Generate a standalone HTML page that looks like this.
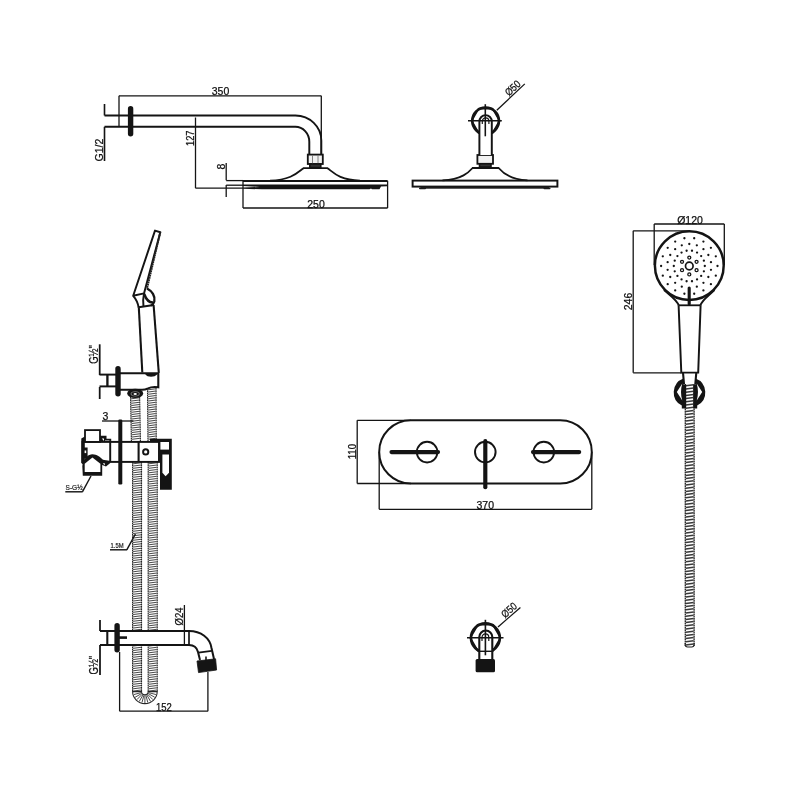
<!DOCTYPE html>
<html><head><meta charset="utf-8"><title>Shower set dimensions</title>
<style>
html,body{margin:0;padding:0;background:#fff;}
body{width:800px;height:800px;overflow:hidden;}
svg{display:block;filter:grayscale(1);}
text{font-family:"Liberation Sans",sans-serif;fill:#111;stroke:#111;stroke-width:0.25px;}
</style></head><body>
<svg width="800" height="800" viewBox="0 0 800 800">
<rect width="800" height="800" fill="#fff"/>
<path d="M155,230.6 L160.3,232.2 L144,293.4 L133.2,295.8 Z" stroke="#141414" stroke-width="1.95" fill="none" stroke-linejoin="round"/>
<path d="M160.3,232.2 L147,288.5" stroke="#222" stroke-width="1.95" fill="none" stroke-dasharray="1.8 0.5"/>
<path d="M133.2,295.8 C136,299 138,303 138.6,307.5" stroke="#141414" stroke-width="1.95" fill="none" />
<path d="M144,293.4 C143,298 143,303 143.5,306.8" stroke="#141414" stroke-width="1.95" fill="none" />
<path d="M147,288.5 C152,291 155.5,296 154.3,301.5 C153.8,303.5 152.5,304.8 151,305.3" stroke="#141414" stroke-width="2.34" fill="none" />
<path d="M144.2,294 C146,299 149,303 153.5,302.5" stroke="#141414" stroke-width="2.47" fill="none" />
<path d="M138.6,307.3 L153.8,305" stroke="#141414" stroke-width="1.95" fill="none" />
<path d="M138.8,307.3 L142.3,372.5" stroke="#141414" stroke-width="2.08" fill="none" />
<path d="M153.6,305 L158.8,372.8" stroke="#141414" stroke-width="2.08" fill="none" />
<polygon points="130.6,397 139.6,397 140.4,441 131.4,441" fill="#fff" stroke="none"/>
<line x1="130.6" y1="397" x2="131.4" y2="441" stroke="#262626" stroke-width="1.15" stroke-dasharray="1.7 0.55"/>
<line x1="139.6" y1="397" x2="140.4" y2="441" stroke="#262626" stroke-width="1.15" stroke-dasharray="1.7 0.55"/>
<path d="M131.11,398.80L139.11,397.80M131.16,401.05L139.16,400.05M131.20,403.30L139.20,402.30M131.24,405.55L139.24,404.55M131.28,407.80L139.28,406.80M131.32,410.05L139.32,409.05M131.36,412.30L139.36,411.30M131.40,414.55L139.40,413.55M131.44,416.80L139.44,415.80M131.48,419.05L139.48,418.05M131.52,421.30L139.52,420.30M131.56,423.55L139.56,422.55M131.61,425.80L139.61,424.80M131.65,428.05L139.65,427.05M131.69,430.30L139.69,429.30M131.73,432.55L139.73,431.55M131.77,434.80L139.77,433.80M131.81,437.05L139.81,436.05M131.85,439.30L139.85,438.30" stroke="#484848" stroke-width="1.0" fill="none"/>
<polygon points="132.6,462 141.5,462 141.5,692 132.6,692" fill="#fff" stroke="none"/>
<line x1="132.6" y1="462" x2="132.6" y2="692" stroke="#262626" stroke-width="1.15" stroke-dasharray="1.7 0.55"/>
<line x1="141.5" y1="462" x2="141.5" y2="692" stroke="#262626" stroke-width="1.15" stroke-dasharray="1.7 0.55"/>
<path d="M133.10,463.80L141.00,462.80M133.10,466.05L141.00,465.05M133.10,468.30L141.00,467.30M133.10,470.55L141.00,469.55M133.10,472.80L141.00,471.80M133.10,475.05L141.00,474.05M133.10,477.30L141.00,476.30M133.10,479.55L141.00,478.55M133.10,481.80L141.00,480.80M133.10,484.05L141.00,483.05M133.10,486.30L141.00,485.30M133.10,488.55L141.00,487.55M133.10,490.80L141.00,489.80M133.10,493.05L141.00,492.05M133.10,495.30L141.00,494.30M133.10,497.55L141.00,496.55M133.10,499.80L141.00,498.80M133.10,502.05L141.00,501.05M133.10,504.30L141.00,503.30M133.10,506.55L141.00,505.55M133.10,508.80L141.00,507.80M133.10,511.05L141.00,510.05M133.10,513.30L141.00,512.30M133.10,515.55L141.00,514.55M133.10,517.80L141.00,516.80M133.10,520.05L141.00,519.05M133.10,522.30L141.00,521.30M133.10,524.55L141.00,523.55M133.10,526.80L141.00,525.80M133.10,529.05L141.00,528.05M133.10,531.30L141.00,530.30M133.10,533.55L141.00,532.55M133.10,535.80L141.00,534.80M133.10,538.05L141.00,537.05M133.10,540.30L141.00,539.30M133.10,542.55L141.00,541.55M133.10,544.80L141.00,543.80M133.10,547.05L141.00,546.05M133.10,549.30L141.00,548.30M133.10,551.55L141.00,550.55M133.10,553.80L141.00,552.80M133.10,556.05L141.00,555.05M133.10,558.30L141.00,557.30M133.10,560.55L141.00,559.55M133.10,562.80L141.00,561.80M133.10,565.05L141.00,564.05M133.10,567.30L141.00,566.30M133.10,569.55L141.00,568.55M133.10,571.80L141.00,570.80M133.10,574.05L141.00,573.05M133.10,576.30L141.00,575.30M133.10,578.55L141.00,577.55M133.10,580.80L141.00,579.80M133.10,583.05L141.00,582.05M133.10,585.30L141.00,584.30M133.10,587.55L141.00,586.55M133.10,589.80L141.00,588.80M133.10,592.05L141.00,591.05M133.10,594.30L141.00,593.30M133.10,596.55L141.00,595.55M133.10,598.80L141.00,597.80M133.10,601.05L141.00,600.05M133.10,603.30L141.00,602.30M133.10,605.55L141.00,604.55M133.10,607.80L141.00,606.80M133.10,610.05L141.00,609.05M133.10,612.30L141.00,611.30M133.10,614.55L141.00,613.55M133.10,616.80L141.00,615.80M133.10,619.05L141.00,618.05M133.10,621.30L141.00,620.30M133.10,623.55L141.00,622.55M133.10,625.80L141.00,624.80M133.10,628.05L141.00,627.05M133.10,630.30L141.00,629.30M133.10,632.55L141.00,631.55M133.10,634.80L141.00,633.80M133.10,637.05L141.00,636.05M133.10,639.30L141.00,638.30M133.10,641.55L141.00,640.55M133.10,643.80L141.00,642.80M133.10,646.05L141.00,645.05M133.10,648.30L141.00,647.30M133.10,650.55L141.00,649.55M133.10,652.80L141.00,651.80M133.10,655.05L141.00,654.05M133.10,657.30L141.00,656.30M133.10,659.55L141.00,658.55M133.10,661.80L141.00,660.80M133.10,664.05L141.00,663.05M133.10,666.30L141.00,665.30M133.10,668.55L141.00,667.55M133.10,670.80L141.00,669.80M133.10,673.05L141.00,672.05M133.10,675.30L141.00,674.30M133.10,677.55L141.00,676.55M133.10,679.80L141.00,678.80M133.10,682.05L141.00,681.05M133.10,684.30L141.00,683.30M133.10,686.55L141.00,685.55M133.10,688.80L141.00,687.80M133.10,691.05L141.00,690.05" stroke="#484848" stroke-width="1.0" fill="none"/>
<polygon points="147.5,388 156,388 156.2,441 148,441" fill="#fff" stroke="none"/>
<line x1="147.5" y1="388" x2="148" y2="441" stroke="#262626" stroke-width="1.15" stroke-dasharray="1.7 0.55"/>
<line x1="156" y1="388" x2="156.2" y2="441" stroke="#262626" stroke-width="1.15" stroke-dasharray="1.7 0.55"/>
<path d="M148.01,389.80L155.50,388.80M148.03,392.05L155.51,391.05M148.05,394.30L155.52,393.30M148.07,396.55L155.53,395.55M148.09,398.80L155.54,397.80M148.11,401.05L155.55,400.05M148.13,403.30L155.55,402.30M148.16,405.55L155.56,404.55M148.18,407.80L155.57,406.80M148.20,410.05L155.58,409.05M148.22,412.30L155.59,411.30M148.24,414.55L155.60,413.55M148.26,416.80L155.60,415.80M148.28,419.05L155.61,418.05M148.30,421.30L155.62,420.30M148.33,423.55L155.63,422.55M148.35,425.80L155.64,424.80M148.37,428.05L155.65,427.05M148.39,430.30L155.66,429.30M148.41,432.55L155.66,431.55M148.43,434.80L155.67,433.80M148.45,437.05L155.68,436.05M148.47,439.30L155.69,438.30" stroke="#484848" stroke-width="1.0" fill="none"/>
<polygon points="148.2,462 157.2,462 157.2,692 148.2,692" fill="#fff" stroke="none"/>
<line x1="148.2" y1="462" x2="148.2" y2="692" stroke="#262626" stroke-width="1.15" stroke-dasharray="1.7 0.55"/>
<line x1="157.2" y1="462" x2="157.2" y2="692" stroke="#262626" stroke-width="1.15" stroke-dasharray="1.7 0.55"/>
<path d="M148.70,463.80L156.70,462.80M148.70,466.05L156.70,465.05M148.70,468.30L156.70,467.30M148.70,470.55L156.70,469.55M148.70,472.80L156.70,471.80M148.70,475.05L156.70,474.05M148.70,477.30L156.70,476.30M148.70,479.55L156.70,478.55M148.70,481.80L156.70,480.80M148.70,484.05L156.70,483.05M148.70,486.30L156.70,485.30M148.70,488.55L156.70,487.55M148.70,490.80L156.70,489.80M148.70,493.05L156.70,492.05M148.70,495.30L156.70,494.30M148.70,497.55L156.70,496.55M148.70,499.80L156.70,498.80M148.70,502.05L156.70,501.05M148.70,504.30L156.70,503.30M148.70,506.55L156.70,505.55M148.70,508.80L156.70,507.80M148.70,511.05L156.70,510.05M148.70,513.30L156.70,512.30M148.70,515.55L156.70,514.55M148.70,517.80L156.70,516.80M148.70,520.05L156.70,519.05M148.70,522.30L156.70,521.30M148.70,524.55L156.70,523.55M148.70,526.80L156.70,525.80M148.70,529.05L156.70,528.05M148.70,531.30L156.70,530.30M148.70,533.55L156.70,532.55M148.70,535.80L156.70,534.80M148.70,538.05L156.70,537.05M148.70,540.30L156.70,539.30M148.70,542.55L156.70,541.55M148.70,544.80L156.70,543.80M148.70,547.05L156.70,546.05M148.70,549.30L156.70,548.30M148.70,551.55L156.70,550.55M148.70,553.80L156.70,552.80M148.70,556.05L156.70,555.05M148.70,558.30L156.70,557.30M148.70,560.55L156.70,559.55M148.70,562.80L156.70,561.80M148.70,565.05L156.70,564.05M148.70,567.30L156.70,566.30M148.70,569.55L156.70,568.55M148.70,571.80L156.70,570.80M148.70,574.05L156.70,573.05M148.70,576.30L156.70,575.30M148.70,578.55L156.70,577.55M148.70,580.80L156.70,579.80M148.70,583.05L156.70,582.05M148.70,585.30L156.70,584.30M148.70,587.55L156.70,586.55M148.70,589.80L156.70,588.80M148.70,592.05L156.70,591.05M148.70,594.30L156.70,593.30M148.70,596.55L156.70,595.55M148.70,598.80L156.70,597.80M148.70,601.05L156.70,600.05M148.70,603.30L156.70,602.30M148.70,605.55L156.70,604.55M148.70,607.80L156.70,606.80M148.70,610.05L156.70,609.05M148.70,612.30L156.70,611.30M148.70,614.55L156.70,613.55M148.70,616.80L156.70,615.80M148.70,619.05L156.70,618.05M148.70,621.30L156.70,620.30M148.70,623.55L156.70,622.55M148.70,625.80L156.70,624.80M148.70,628.05L156.70,627.05M148.70,630.30L156.70,629.30M148.70,632.55L156.70,631.55M148.70,634.80L156.70,633.80M148.70,637.05L156.70,636.05M148.70,639.30L156.70,638.30M148.70,641.55L156.70,640.55M148.70,643.80L156.70,642.80M148.70,646.05L156.70,645.05M148.70,648.30L156.70,647.30M148.70,650.55L156.70,649.55M148.70,652.80L156.70,651.80M148.70,655.05L156.70,654.05M148.70,657.30L156.70,656.30M148.70,659.55L156.70,658.55M148.70,661.80L156.70,660.80M148.70,664.05L156.70,663.05M148.70,666.30L156.70,665.30M148.70,668.55L156.70,667.55M148.70,670.80L156.70,669.80M148.70,673.05L156.70,672.05M148.70,675.30L156.70,674.30M148.70,677.55L156.70,676.55M148.70,679.80L156.70,678.80M148.70,682.05L156.70,681.05M148.70,684.30L156.70,683.30M148.70,686.55L156.70,685.55M148.70,688.80L156.70,687.80M148.70,691.05L156.70,690.05" stroke="#484848" stroke-width="1.0" fill="none"/>
<path d="M132.6,691.6 A12.3,12 0 0 0 157.2,691.6 L148.2,691.6 A3.35,3.3 0 0 1 141.5,691.6 Z" fill="#fff" stroke="#262626" stroke-width="1.1"/>
<path d="M141.23,692.58L133.89,694.55M141.61,693.50L135.03,697.30M142.21,694.29L136.84,699.66M143.00,694.89L139.20,701.47M143.92,695.27L141.95,702.61M144.90,695.40L144.90,703.00M145.88,695.27L147.85,702.61M146.80,694.89L150.60,701.47M147.59,694.29L152.96,699.66M148.19,693.50L154.77,697.30M148.57,692.58L155.91,694.55" stroke="#484848" stroke-width="1.0" fill="none"/>
<path d="M120,373.2 H158.3 V387.2 C154,386.6 151,386.8 148,388.4 C146,389.4 144.5,389.8 142,389.8 H120" stroke="#141414" stroke-width="2.08" fill="#fff" />
<path d="M146,373.8 C148,376.4 154,376.4 156.5,373.8" stroke="#141414" stroke-width="1.95" fill="#141414" />
<rect x="115.3" y="366.1" width="5.4" height="30.3" rx="2.7" fill="#141414"/>
<line x1="99.5" y1="374.6" x2="116" y2="374.6" stroke="#141414" stroke-width="1.95" />
<line x1="99.5" y1="386.4" x2="116" y2="386.4" stroke="#141414" stroke-width="1.95" />
<line x1="107.4" y1="374.6" x2="107.4" y2="386.4" stroke="#141414" stroke-width="2.34" />
<ellipse cx="135.2" cy="393.4" rx="8" ry="4.7" fill="#141414"/>
<ellipse cx="135.2" cy="393.8" rx="4.6" ry="2.6" fill="#777"/>
<ellipse cx="135.2" cy="393.8" rx="3.6" ry="1.9" fill="#141414"/>
<ellipse cx="135.2" cy="394" rx="1.7" ry="0.9" fill="#fff"/>
<line x1="99.7" y1="344.3" x2="99.7" y2="375" stroke="#141414" stroke-width="1.76" />
<line x1="99.7" y1="387" x2="99.7" y2="399" stroke="#141414" stroke-width="1.76" />
<text x="98.2" y="363.8" font-size="12" text-anchor="start" textLength="18.6" lengthAdjust="spacingAndGlyphs" transform="rotate(-90 98.2 363.8)">G½"</text>
<line x1="102" y1="421" x2="133.4" y2="421" stroke="#141414" stroke-width="1.3" />
<text x="105.4" y="419.9" font-size="10.5" text-anchor="middle" >3</text>
<rect x="82.5" y="441.9" width="76.5" height="20" stroke="#141414" stroke-width="1.95" fill="#fff" />
<rect x="85" y="430.1" width="15" height="11.8" stroke="#141414" stroke-width="1.82" fill="#fff" />
<path d="M100,436.6 H105.6 V439.6 H110.3 V441.9" stroke="#141414" stroke-width="1.82" fill="none" />
<polygon points="100,437 105,437 105,441.9 100,441.9" fill="#141414"/>
<polygon points="101.8,438.6 104,438.6 104,441 " fill="#fff"/>
<polygon points="81.3,438.5 84.8,436.5 84.8,466 81.3,463" fill="#141414"/>
<rect x="84" y="447.5" width="3.6" height="11" fill="#141414"/>
<rect x="84.6" y="450.5" width="1.6" height="2.6" fill="#fff"/>
<path d="M82.3,466 C83.5,458 88.5,454.2 92.4,454.2 C97,454.2 100,457 103,459.8 L110.3,461 L110.3,463 L106,466.6 L102.2,465 L102.2,475.8 L82.8,475.8 Z" fill="#141414"/>
<polygon points="92.4,457.4 100.4,463.8 100.4,471.9 84.7,471.9 84.7,463.8" fill="#fff"/>
<polygon points="102.8,463.2 104.8,463.2 104.8,465.6" fill="#fff"/>
<line x1="110.2" y1="441.9" x2="110.2" y2="462" stroke="#141414" stroke-width="1.95" />
<line x1="138.6" y1="441.9" x2="138.6" y2="462" stroke="#141414" stroke-width="2.08" />
<rect x="118.3" y="419.5" width="4" height="65" rx="1.2" fill="#141414"/>
<circle cx="145.7" cy="451.9" r="2.6" stroke="#141414" stroke-width="1.95" fill="none"/>
<path d="M150,438.8 H171.8 V489.8 H160 V450 H159 V441.4 H150 Z" fill="#141414"/>
<rect x="160.4" y="442" width="8.6" height="7.6" fill="#fff"/>
<polygon points="162.4,454.6 169,454.6 169,472.8 165.6,476.2 162.4,472.8" fill="#fff"/>
<text x="65.6" y="490" font-size="6.8" text-anchor="start" textLength="17" lengthAdjust="spacingAndGlyphs" style="stroke-width:0.2px;fill:#222;stroke:#222">S-G½</text>
<line x1="65.3" y1="491.8" x2="82.6" y2="491.8" stroke="#141414" stroke-width="1.43" />
<line x1="82.4" y1="491.8" x2="91" y2="476" stroke="#141414" stroke-width="1.43" />
<text x="110.6" y="547.6" font-size="6.8" text-anchor="start" textLength="13" lengthAdjust="spacingAndGlyphs" style="stroke-width:0.2px;fill:#222;stroke:#222">1.5M</text>
<line x1="110" y1="549.8" x2="127" y2="549.8" stroke="#141414" stroke-width="1.43" />
<line x1="126.8" y1="549.8" x2="135.4" y2="534" stroke="#141414" stroke-width="1.43" />
<path d="M120,631 H189 C201,631 210,638 211.5,648 L213.5,659 L200,660 L198,652 C197,648 194,645 189,645 H120 Z" fill="#fff" stroke="none"/>
<path d="M100,631 H189 C201,631 210,638 211.5,648 L214,659" stroke="#141414" stroke-width="2.02" fill="none" />
<path d="M100,645 H189 C194,645 197,648 198,652 L200,660" stroke="#141414" stroke-width="2.02" fill="none" />
<line x1="189" y1="631" x2="189" y2="645" stroke="#141414" stroke-width="1.69" />
<line x1="198.3" y1="652.6" x2="211.8" y2="650.8" stroke="#141414" stroke-width="1.69" />
<line x1="206" y1="656.5" x2="206" y2="660" stroke="#141414" stroke-width="1.56" />
<polygon points="197,661 215.6,658.8 216.6,670 198.5,672.6" fill="#141414" stroke="#141414" stroke-width="0.8" stroke-linejoin="round"/>
<rect x="114.4" y="623" width="5.4" height="29.5" rx="2.7" fill="#141414"/>
<line x1="107.3" y1="631" x2="107.3" y2="645" stroke="#141414" stroke-width="2.08" />
<line x1="119" y1="637.6" x2="127" y2="637.6" stroke="#141414" stroke-width="2.6" />
<line x1="100" y1="620" x2="100" y2="631" stroke="#141414" stroke-width="1.76" />
<line x1="100" y1="645" x2="100" y2="675" stroke="#141414" stroke-width="1.76" />
<text x="98.5" y="674.4" font-size="12" text-anchor="start" textLength="18.6" lengthAdjust="spacingAndGlyphs" transform="rotate(-90 98.5 674.4)">G½"</text>
<line x1="184.4" y1="605" x2="184.4" y2="645" stroke="#141414" stroke-width="1.3" />
<text x="182.8" y="616.4" font-size="11" text-anchor="middle" transform="rotate(-90 182.8 616.4)" textLength="18" lengthAdjust="spacingAndGlyphs" >Ø24</text>
<line x1="119.6" y1="652" x2="119.6" y2="711.2" stroke="#141414" stroke-width="1.3" />
<line x1="207.9" y1="672" x2="207.9" y2="711.2" stroke="#141414" stroke-width="1.3" />
<line x1="119.6" y1="711.2" x2="207.9" y2="711.2" stroke="#141414" stroke-width="1.3" />
<text x="164" y="710.6" font-size="10.5" text-anchor="middle" textLength="15.8" lengthAdjust="spacingAndGlyphs" >152</text>
<line x1="119" y1="95.8" x2="321.3" y2="95.8" stroke="#141414" stroke-width="1.3" />
<line x1="119" y1="95.8" x2="119" y2="127" stroke="#141414" stroke-width="1.3" />
<line x1="321.3" y1="95.8" x2="321.3" y2="154" stroke="#141414" stroke-width="1.3" />
<text x="220.5" y="95.2" font-size="10.5" text-anchor="middle" >350</text>
<line x1="104.5" y1="104" x2="104.5" y2="115.5" stroke="#141414" stroke-width="1.62" />
<line x1="104.5" y1="126.8" x2="104.5" y2="161" stroke="#141414" stroke-width="1.62" />
<text x="103.2" y="150" font-size="10.5" text-anchor="middle" transform="rotate(-90 103.2 150)" >G1/2</text>
<path d="M104.5,115.5 H295 A26,25 0 0 1 321.3,141 V154.5" stroke="#141414" stroke-width="1.95" fill="none" />
<path d="M104.5,126.8 H295 A14,15 0 0 1 309.3,142 V154.5" stroke="#141414" stroke-width="1.95" fill="none" />
<rect x="127.9" y="106" width="5.4" height="30.5" rx="2.7" fill="#141414"/>
<line x1="195.5" y1="117.5" x2="195.5" y2="188.2" stroke="#141414" stroke-width="1.3" />
<line x1="195.5" y1="188.2" x2="243" y2="188.2" stroke="#141414" stroke-width="1.3" />
<text x="193.8" y="138.2" font-size="10.5" text-anchor="middle" transform="rotate(-90 193.8 138.2)" textLength="15.5" lengthAdjust="spacingAndGlyphs" >127</text>
<line x1="226.2" y1="163" x2="226.2" y2="180.2" stroke="#141414" stroke-width="1.3" />
<line x1="226.2" y1="185" x2="226.2" y2="197" stroke="#141414" stroke-width="1.3" />
<line x1="226.2" y1="180.6" x2="243" y2="180.6" stroke="#141414" stroke-width="1.3" />
<line x1="226.2" y1="185.2" x2="243" y2="185.2" stroke="#141414" stroke-width="1.3" />
<text x="224.8" y="166.5" font-size="10.5" text-anchor="middle" transform="rotate(-90 224.8 166.5)" >8</text>
<rect x="307.8" y="154.6" width="15" height="9.4" stroke="#141414" stroke-width="1.82" fill="#f2f2f2" />
<line x1="312.5" y1="155" x2="312.5" y2="164" stroke="#777" stroke-width="0.91" />
<line x1="318" y1="155" x2="318" y2="164" stroke="#777" stroke-width="0.91" />
<rect x="309.8" y="164" width="11" height="3.6" stroke="#141414" stroke-width="1.56" fill="#333" />
<path d="M270,180.6 C292,180 298,172 303.5,168.2 H327.5 C333,172 339,180 360,180.6" stroke="#141414" stroke-width="1.82" fill="none" />
<line x1="243" y1="181" x2="387.6" y2="181" stroke="#141414" stroke-width="2.21" />
<line x1="243" y1="180.8" x2="243" y2="208" stroke="#141414" stroke-width="1.3" />
<line x1="387.6" y1="180.8" x2="387.6" y2="208" stroke="#141414" stroke-width="1.3" />
<polygon points="243,184.6 262,184.6 387.4,184.6 387.4,186.2 381,186.6 379.5,189.3 372,189.3 371,188.6 369.5,189.3 262,189.3 243,188.8 243,187.6 260,186.9 243,185.9" fill="#141414"/>
<line x1="243" y1="208" x2="387.6" y2="208" stroke="#141414" stroke-width="1.3" />
<text x="316" y="207.7" font-size="10.5" text-anchor="middle" >250</text>
<rect x="412.6" y="180.6" width="144.8" height="6" stroke="#141414" stroke-width="1.95" fill="none" />
<rect x="420.5" y="186.4" width="128.5" height="2.3" fill="#1c1c1c"/>
<rect x="419" y="187.6" width="7" height="1.7" rx="0.8" fill="#1c1c1c"/>
<rect x="543.5" y="187.6" width="7" height="1.7" rx="0.8" fill="#1c1c1c"/>
<path d="M442.5,180.4 C462,179.6 469,172 472.6,168 H498.6 C502,172 509,179.6 527.5,180.4" stroke="#141414" stroke-width="1.82" fill="none" />
<rect x="477.4" y="155" width="15.6" height="8.8" stroke="#141414" stroke-width="1.82" fill="#f2f2f2" />
<rect x="479.5" y="163.8" width="11.5" height="3.2" stroke="#141414" stroke-width="1.56" fill="#333" />
<circle cx="485.6" cy="120.8" r="13.35" stroke="#141414" stroke-width="2.6" fill="none"/>
<polygon points="499.60,120.80 492.60,132.92 478.60,132.92 471.60,120.80 478.60,108.68 492.60,108.68" fill="none" stroke="#141414" stroke-width="1.7" stroke-linejoin="round"/>
<path d="M479.4,155 V121.5 A6.2,6.4 0 0 1 491.8,121.5 V155" stroke="#141414" stroke-width="1.95" fill="#fff" />
<path d="M482.3,124 V121.2 A3.3,3.4 0 0 1 488.9,121.2 V124" stroke="#141414" stroke-width="1.17" fill="none" />
<line x1="468" y1="120.8" x2="501.8" y2="120.8" stroke="#141414" stroke-width="1.56" />
<line x1="485.3" y1="104.2" x2="485.3" y2="136.3" stroke="#141414" stroke-width="1.56" />
<line x1="496.8" y1="110.2" x2="524.8" y2="83.9" stroke="#141414" stroke-width="1.3" />
<text x="515.2" y="90.6" font-size="10.5" text-anchor="middle" transform="rotate(-43.2 515.2 90.6)" textLength="17" lengthAdjust="spacingAndGlyphs" >Ø50</text>
<rect x="379.2" y="420.3" width="212.6" height="63.2" rx="31.6" fill="none" stroke="#141414" stroke-width="2"/>
<line x1="357.2" y1="420.3" x2="357.2" y2="483.5" stroke="#141414" stroke-width="1.3" />
<line x1="357.2" y1="420.3" x2="411" y2="420.3" stroke="#141414" stroke-width="1.3" />
<line x1="357.2" y1="483.5" x2="411" y2="483.5" stroke="#141414" stroke-width="1.3" />
<text x="355.6" y="451.6" font-size="10.5" text-anchor="middle" transform="rotate(-90 355.6 451.6)" textLength="15.4" lengthAdjust="spacingAndGlyphs" >110</text>
<line x1="379.2" y1="452" x2="379.2" y2="509.3" stroke="#141414" stroke-width="1.3" />
<line x1="591.8" y1="452" x2="591.8" y2="509.3" stroke="#141414" stroke-width="1.3" />
<line x1="379.2" y1="509.3" x2="591.8" y2="509.3" stroke="#141414" stroke-width="1.3" />
<text x="485.3" y="509" font-size="10.5" text-anchor="middle" >370</text>
<circle cx="427.1" cy="452.1" r="10.3" stroke="#141414" stroke-width="1.95" fill="none"/>
<line x1="391.5" y1="452.1" x2="438" y2="452.1" stroke="#141414" stroke-width="4.16" stroke-linecap="round"/>
<circle cx="485.3" cy="452.1" r="10.3" stroke="#141414" stroke-width="1.95" fill="none"/>
<line x1="485.3" y1="441.2" x2="485.3" y2="487.2" stroke="#141414" stroke-width="4.16" stroke-linecap="round"/>
<circle cx="543.8" cy="452.1" r="10.3" stroke="#141414" stroke-width="1.95" fill="none"/>
<line x1="533" y1="452.1" x2="579.2" y2="452.1" stroke="#141414" stroke-width="4.16" stroke-linecap="round"/>
<circle cx="485.4" cy="637.8" r="14.45" stroke="#141414" stroke-width="2.6" fill="none"/>
<polygon points="500.50,637.80 492.95,650.88 477.85,650.88 470.30,637.80 477.85,624.72 492.95,624.72" fill="none" stroke="#141414" stroke-width="1.7" stroke-linejoin="round"/>
<path d="M479.3,659 V637 A6.4,6.4 0 0 1 492.3,637 V659" stroke="#141414" stroke-width="2.08" fill="#fff" />
<path d="M482,641 V637.5 A3.4,3.6 0 0 1 488.8,637.5 V641" stroke="#141414" stroke-width="1.17" fill="none" />
<line x1="479.3" y1="651.3" x2="492.3" y2="651.3" stroke="#141414" stroke-width="1.43" />
<line x1="467" y1="637.8" x2="503.5" y2="637.8" stroke="#141414" stroke-width="1.62" />
<line x1="485.4" y1="619.8" x2="485.4" y2="655.3" stroke="#141414" stroke-width="1.62" />
<rect x="475.6" y="659" width="19.4" height="13.2" rx="1.5" fill="#141414"/>
<line x1="498" y1="627" x2="520.4" y2="607.4" stroke="#141414" stroke-width="1.3" />
<text x="511.3" y="612.8" font-size="10.5" text-anchor="middle" transform="rotate(-41 511.3 612.8)" textLength="17" lengthAdjust="spacingAndGlyphs" >Ø50</text>
<line x1="654.2" y1="224" x2="724.3" y2="224" stroke="#141414" stroke-width="1.3" />
<line x1="654.2" y1="224" x2="654.2" y2="265" stroke="#141414" stroke-width="1.3" />
<line x1="724.3" y1="224" x2="724.3" y2="265" stroke="#141414" stroke-width="1.3" />
<text x="690" y="223.6" font-size="10.5" text-anchor="middle" >Ø120</text>
<line x1="633.2" y1="230.8" x2="633.2" y2="372.8" stroke="#141414" stroke-width="1.3" />
<line x1="633.2" y1="230.8" x2="689" y2="230.8" stroke="#141414" stroke-width="1.3" />
<line x1="633.2" y1="372.8" x2="681.5" y2="372.8" stroke="#141414" stroke-width="1.3" />
<text x="632" y="301.5" font-size="10.5" text-anchor="middle" transform="rotate(-90 632 301.5)" >246</text>
<circle cx="689.3" cy="265.6" r="34.4" stroke="#141414" stroke-width="2.47" fill="none"/>
<path d="M664,290 C672,297 677,300 678.8,305.5" stroke="#141414" stroke-width="1.95" fill="none" />
<path d="M714.5,290 C707,297 702,300 700.3,305.5" stroke="#141414" stroke-width="1.95" fill="none" />
<line x1="678.8" y1="305.3" x2="700.3" y2="305.3" stroke="#141414" stroke-width="1.82" />
<line x1="689.2" y1="288" x2="689.2" y2="304" stroke="#141414" stroke-width="3.12" stroke-linecap="round"/>
<circle cx="689.3" cy="266" r="3.8" stroke="#141414" stroke-width="1.69" fill="none"/>
<circle cx="689.3" cy="274.4" r="1.5" stroke="#141414" stroke-width="1.3" fill="none"/>
<circle cx="682.03" cy="270.2" r="1.5" stroke="#141414" stroke-width="1.3" fill="none"/>
<circle cx="682.03" cy="261.8" r="1.5" stroke="#141414" stroke-width="1.3" fill="none"/>
<circle cx="689.3" cy="257.6" r="1.5" stroke="#141414" stroke-width="1.3" fill="none"/>
<circle cx="696.57" cy="261.8" r="1.5" stroke="#141414" stroke-width="1.3" fill="none"/>
<circle cx="696.57" cy="270.2" r="1.5" stroke="#141414" stroke-width="1.3" fill="none"/>
<circle cx="704.80" cy="266.00" r="1.15" fill="#141414"/>
<circle cx="703.87" cy="260.70" r="1.15" fill="#141414"/>
<circle cx="701.17" cy="256.04" r="1.15" fill="#141414"/>
<circle cx="697.05" cy="252.58" r="1.15" fill="#141414"/>
<circle cx="691.99" cy="250.74" r="1.15" fill="#141414"/>
<circle cx="686.61" cy="250.74" r="1.15" fill="#141414"/>
<circle cx="681.55" cy="252.58" r="1.15" fill="#141414"/>
<circle cx="677.43" cy="256.04" r="1.15" fill="#141414"/>
<circle cx="674.73" cy="260.70" r="1.15" fill="#141414"/>
<circle cx="673.80" cy="266.00" r="1.15" fill="#141414"/>
<circle cx="674.73" cy="271.30" r="1.15" fill="#141414"/>
<circle cx="677.43" cy="275.96" r="1.15" fill="#141414"/>
<circle cx="681.55" cy="279.42" r="1.15" fill="#141414"/>
<circle cx="686.61" cy="281.26" r="1.15" fill="#141414"/>
<circle cx="691.99" cy="281.26" r="1.15" fill="#141414"/>
<circle cx="697.05" cy="279.42" r="1.15" fill="#141414"/>
<circle cx="701.17" cy="275.96" r="1.15" fill="#141414"/>
<circle cx="703.87" cy="271.30" r="1.15" fill="#141414"/>
<circle cx="710.97" cy="262.18" r="1.15" fill="#141414"/>
<circle cx="708.35" cy="255.00" r="1.15" fill="#141414"/>
<circle cx="703.44" cy="249.15" r="1.15" fill="#141414"/>
<circle cx="696.82" cy="245.33" r="1.15" fill="#141414"/>
<circle cx="689.30" cy="244.00" r="1.15" fill="#141414"/>
<circle cx="681.78" cy="245.33" r="1.15" fill="#141414"/>
<circle cx="675.16" cy="249.15" r="1.15" fill="#141414"/>
<circle cx="670.25" cy="255.00" r="1.15" fill="#141414"/>
<circle cx="667.63" cy="262.18" r="1.15" fill="#141414"/>
<circle cx="667.63" cy="269.82" r="1.15" fill="#141414"/>
<circle cx="670.25" cy="277.00" r="1.15" fill="#141414"/>
<circle cx="675.16" cy="282.85" r="1.15" fill="#141414"/>
<circle cx="681.78" cy="286.67" r="1.15" fill="#141414"/>
<circle cx="696.82" cy="286.67" r="1.15" fill="#141414"/>
<circle cx="703.44" cy="282.85" r="1.15" fill="#141414"/>
<circle cx="708.35" cy="277.00" r="1.15" fill="#141414"/>
<circle cx="710.97" cy="269.82" r="1.15" fill="#141414"/>
<circle cx="717.50" cy="266.00" r="1.15" fill="#141414"/>
<circle cx="715.80" cy="256.36" r="1.15" fill="#141414"/>
<circle cx="710.90" cy="247.87" r="1.15" fill="#141414"/>
<circle cx="703.40" cy="241.58" r="1.15" fill="#141414"/>
<circle cx="694.20" cy="238.23" r="1.15" fill="#141414"/>
<circle cx="684.40" cy="238.23" r="1.15" fill="#141414"/>
<circle cx="675.20" cy="241.58" r="1.15" fill="#141414"/>
<circle cx="667.70" cy="247.87" r="1.15" fill="#141414"/>
<circle cx="662.80" cy="256.36" r="1.15" fill="#141414"/>
<circle cx="661.10" cy="266.00" r="1.15" fill="#141414"/>
<circle cx="662.80" cy="275.64" r="1.15" fill="#141414"/>
<circle cx="667.70" cy="284.13" r="1.15" fill="#141414"/>
<circle cx="675.20" cy="290.42" r="1.15" fill="#141414"/>
<circle cx="684.40" cy="293.77" r="1.15" fill="#141414"/>
<circle cx="694.20" cy="293.77" r="1.15" fill="#141414"/>
<circle cx="703.40" cy="290.42" r="1.15" fill="#141414"/>
<circle cx="710.90" cy="284.13" r="1.15" fill="#141414"/>
<circle cx="715.80" cy="275.64" r="1.15" fill="#141414"/>
<path d="M678.6,305.3 L681.3,372.6 H698.2 L700.6,305.3" stroke="#141414" stroke-width="1.95" fill="none" />
<path d="M683,372.6 L684,384 M696.3,372.6 L695.3,384" stroke="#141414" stroke-width="2.08" fill="none" />
<polygon points="685.3,384 694.1,384 694.1,646 685.3,646" fill="#fff" stroke="none"/>
<line x1="685.3" y1="384" x2="685.3" y2="646" stroke="#262626" stroke-width="1.3" stroke-dasharray="1.7 0.55"/>
<line x1="694.1" y1="384" x2="694.1" y2="646" stroke="#262626" stroke-width="1.3" stroke-dasharray="1.7 0.55"/>
<path d="M685.80,385.80L693.60,384.80M685.80,389.00L693.60,388.00M685.80,392.20L693.60,391.20M685.80,395.40L693.60,394.40M685.80,398.60L693.60,397.60M685.80,401.80L693.60,400.80M685.80,405.00L693.60,404.00M685.80,408.20L693.60,407.20M685.80,411.40L693.60,410.40M685.80,414.60L693.60,413.60M685.80,417.80L693.60,416.80M685.80,421.00L693.60,420.00M685.80,424.20L693.60,423.20M685.80,427.40L693.60,426.40M685.80,430.60L693.60,429.60M685.80,433.80L693.60,432.80M685.80,437.00L693.60,436.00M685.80,440.20L693.60,439.20M685.80,443.40L693.60,442.40M685.80,446.60L693.60,445.60M685.80,449.80L693.60,448.80M685.80,453.00L693.60,452.00M685.80,456.20L693.60,455.20M685.80,459.40L693.60,458.40M685.80,462.60L693.60,461.60M685.80,465.80L693.60,464.80M685.80,469.00L693.60,468.00M685.80,472.20L693.60,471.20M685.80,475.40L693.60,474.40M685.80,478.60L693.60,477.60M685.80,481.80L693.60,480.80M685.80,485.00L693.60,484.00M685.80,488.20L693.60,487.20M685.80,491.40L693.60,490.40M685.80,494.60L693.60,493.60M685.80,497.80L693.60,496.80M685.80,501.00L693.60,500.00M685.80,504.20L693.60,503.20M685.80,507.40L693.60,506.40M685.80,510.60L693.60,509.60M685.80,513.80L693.60,512.80M685.80,517.00L693.60,516.00M685.80,520.20L693.60,519.20M685.80,523.40L693.60,522.40M685.80,526.60L693.60,525.60M685.80,529.80L693.60,528.80M685.80,533.00L693.60,532.00M685.80,536.20L693.60,535.20M685.80,539.40L693.60,538.40M685.80,542.60L693.60,541.60M685.80,545.80L693.60,544.80M685.80,549.00L693.60,548.00M685.80,552.20L693.60,551.20M685.80,555.40L693.60,554.40M685.80,558.60L693.60,557.60M685.80,561.80L693.60,560.80M685.80,565.00L693.60,564.00M685.80,568.20L693.60,567.20M685.80,571.40L693.60,570.40M685.80,574.60L693.60,573.60M685.80,577.80L693.60,576.80M685.80,581.00L693.60,580.00M685.80,584.20L693.60,583.20M685.80,587.40L693.60,586.40M685.80,590.60L693.60,589.60M685.80,593.80L693.60,592.80M685.80,597.00L693.60,596.00M685.80,600.20L693.60,599.20M685.80,603.40L693.60,602.40M685.80,606.60L693.60,605.60M685.80,609.80L693.60,608.80M685.80,613.00L693.60,612.00M685.80,616.20L693.60,615.20M685.80,619.40L693.60,618.40M685.80,622.60L693.60,621.60M685.80,625.80L693.60,624.80M685.80,629.00L693.60,628.00M685.80,632.20L693.60,631.20M685.80,635.40L693.60,634.40M685.80,638.60L693.60,637.60M685.80,641.80L693.60,640.80M685.80,645.00L693.60,644.00" stroke="#3a3a3a" stroke-width="1.5" fill="none"/>
<path d="M685.2,643 V644.6 A2.4,2.4 0 0 0 687.6,647 H691.7 A2.4,2.4 0 0 0 694.1,644.6 V643" fill="none" stroke="#222" stroke-width="1.1"/>
<path d="M683.4,378.4 A14.9,14.9 0 0 0 681.8,405.6 V408.5 H686.2 V384.5 H683.6 Z" fill="#141414"/>
<path d="M695.6,378.4 A14.9,14.9 0 0 1 697.2,405.6 V408.5 H693.2 V384.5 H695.4 Z" fill="#141414"/>
<path d="M682.3,383.6 L676.8,392 L682.3,400.4 C680.6,395 680.6,389 682.3,383.6 Z" fill="#fff"/>
<path d="M696.7,383.6 L702.2,392 L696.7,400.4 C698.4,395 698.4,389 696.7,383.6 Z" fill="#fff"/>
</svg>
</body></html>
